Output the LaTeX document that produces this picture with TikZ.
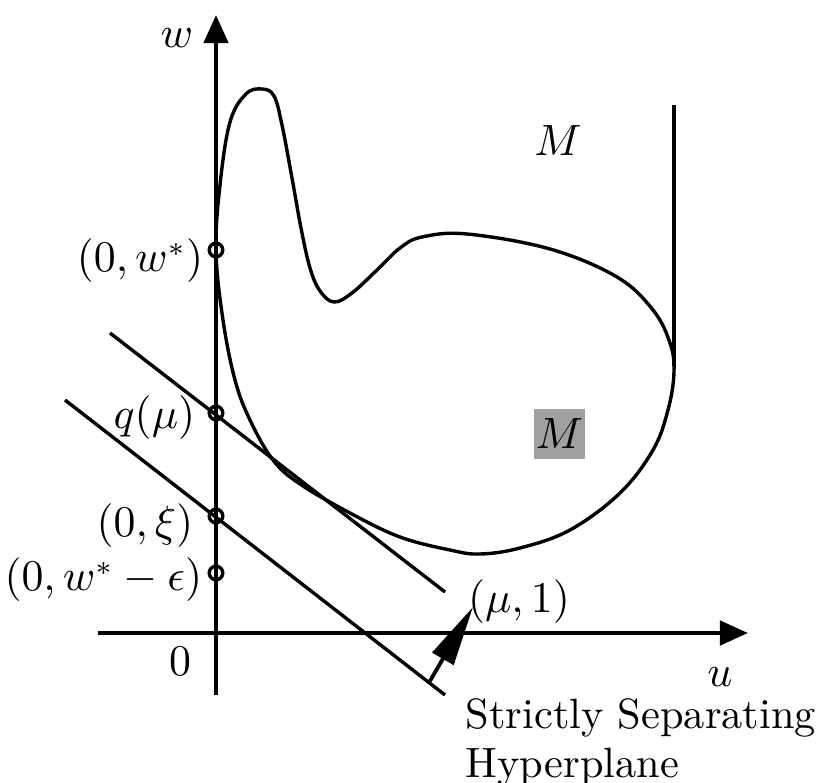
\documentclass[tikz,border=0pt]{standalone}
\usetikzlibrary{arrows.meta}
\definecolor{boxgray}{RGB}{160,160,160}
\begin{document}
\begin{tikzpicture}[x=0.25pt,y=-0.25pt,
  axis/.style={line width=1.15pt,-{Triangle[length=7pt,width=6pt]}},
  lineseg/.style={line width=0.85pt},
  ptmark/.style={circle,draw,line width=0.85pt,inner sep=0pt,minimum size=3.4pt},
  lbl/.style={inner sep=0pt,font=\fontsize{10.6}{12.7}\selectfont}
]
\useasboundingbox (0,0) rectangle (817,783);
% axes
\coordinate (uL) at (98,633);
\coordinate (uR) at (748,633);
\coordinate (wB) at (216,695);
\coordinate (wT) at (216,15);
\draw[axis] (uL) -- (uR);
\draw[axis] (wB) -- (wT);
\node[lbl] (wlab) at (177,38) {$w$};
\node[lbl] (ulab) at (720,677) {$u$};
\node[lbl] (zero) at (180,661) {$0$};
% set M
\draw[lineseg] plot[smooth cycle, tension=0.62] coordinates {
 (216,251) (220,185) (230,122) (246,94) (262,89) (274,96)
 (282,125) (292,178) (301,228) (310,268) (320,291) (334,302)
 (352,293) (377,270) (400,248) (422,237) (467,234) (550,249) (617,277) (653,310)
 (670,343) (674,372) (668,410) (653,450) (620,493) (570,530) (520,548) (480,554)
 (450,550) (400,537) (350,513) (300,484) (273,460) (250,420) (235,380) (223,320)
};
\coordinate (vT) at (674,105);
\coordinate (vB) at (674,366);
\draw[line width=1.1pt] (vT) -- (vB);
\node[lbl] (Mtop) at (558,141) {$M$};
\node[lbl,fill=boxgray,minimum width=12.75pt,minimum height=12.5pt] (Mbox) at (559.5,434) {$M$};
% lines
\coordinate (aS) at (110,333);
\coordinate (aE) at (445,592);
\coordinate (bS) at (65,400);
\coordinate (bE) at (445,695);
\draw[lineseg] (aS) -- (aE);
\draw[lineseg] (bS) -- (bE);
% marks on w axis
\node[ptmark] (pw) at (216,250) {};
\node[ptmark] (pq) at (216,413) {};
\node[ptmark] (px) at (216,516) {};
\node[ptmark] (pe) at (216,573) {};
\node[lbl,anchor=east] (lw) at (204,261) {$(0,w^*)$};
\node[lbl,anchor=east] (lq) at (196,418) {$q(\mu)$};
\node[lbl,anchor=east] (lx) at (194,526) {$(0,\xi)$};
\node[lbl,anchor=east] (le) at (203,580) {$(0,w^*-\epsilon)$};
% normal vector
\coordinate (nS) at (430,681);
\coordinate (nT) at (473,607);
\draw[line width=0.95pt,-{Triangle[length=15pt,width=6pt]}] (nS) -- (nT);
\node[lbl] (mu) at (519,602) {$(\mu,1)$};
\node[lbl,anchor=base west] (t1) at (465,728) {Strictly Separating};
\node[lbl,anchor=base west] (t2) at (465,777) {Hyperplane};
\end{tikzpicture}
\end{document}
